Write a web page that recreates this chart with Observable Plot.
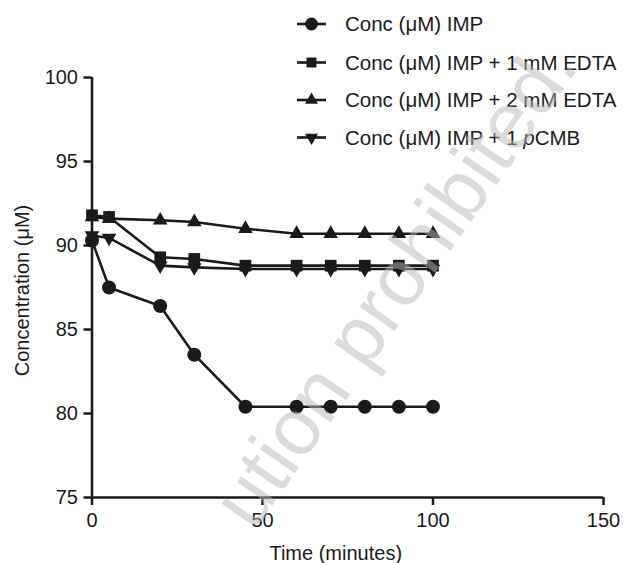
<!DOCTYPE html>
<html>
<head>
<meta charset="utf-8">
<script src="https://cdn.jsdelivr.net/npm/d3@7"></script>
<script src="https://cdn.jsdelivr.net/npm/@observablehq/plot@0.6"></script>
<style>
  html, body { margin: 0; padding: 0; background: #fff; }
  #wrap { position: relative; width: 626px; height: 563px; overflow: hidden; }
  #overlay { position: absolute; left: 0; top: 0; pointer-events: none; }
</style>
</head>
<body>
<div id="wrap"></div>
<script>
// ---- data ----
const times = [0, 5, 20, 30, 45, 60, 70, 80, 90, 100];
const seriesNames = ["Conc (μM) IMP", "Conc (μM) IMP + 1 mM EDTA", "Conc (μM) IMP + 2 mM EDTA", "Conc (μM) IMP + 1 pCMB"];
const imp   = [90.3, 87.5, 86.4, 83.5, 80.4, 80.4, 80.4, 80.4, 80.4, 80.4];
const edta1 = [91.8, 91.7, 89.3, 89.2, 88.8, 88.8, 88.8, 88.8, 88.8, 88.8];
const edta2 = [91.7, 91.6, 91.5, 91.4, 91.0, 90.7, 90.7, 90.7, 90.7, 90.7];
const pcmb  = [90.6, 90.45, 88.8, 88.7, 88.6, 88.6, 88.6, 88.6, 88.6, 88.6];
const xTicks = [0, 50, 100, 150];
const yTicks = [75, 80, 85, 90, 95, 100];
const watermark = "ution prohibited.";

const ink = "#1a1a1a";
const font = "'Liberation Sans', Arial, Helvetica, sans-serif";

// down-pointing triangle symbol
const triangleDown = {
  draw(ctx, size) {
    const y = Math.sqrt(size / (Math.sqrt(3) * 3));
    ctx.moveTo(0, 2 * y);
    ctx.lineTo(-Math.sqrt(3) * y, -y);
    ctx.lineTo(Math.sqrt(3) * y, -y);
    ctx.closePath();
  }
};

const seriesVals = [imp, edta1, edta2, pcmb];
const symbols = ["circle", "square", "triangle", triangleDown];
const radii = [7, 6.6, 5.4, 5.4];

const table = [];
seriesNames.forEach((name, i) => {
  times.forEach((t, j) => table.push({series: name, idx: i, time: t, conc: seriesVals[i][j]}));
});

const dotMarks = seriesNames.map((name, i) =>
  Plot.dot(table.filter(d => d.idx === i), {
    x: "time", y: "conc", symbol: () => symbols[i], r: radii[i],
    fill: ink, stroke: "none"
  })
);

const chart = Plot.plot({
  width: 626, height: 563,
  marginLeft: 91.5, marginRight: 23, marginTop: 77, marginBottom: 66,
  style: {fontFamily: font, fontSize: "20px", color: ink, background: "#fff", overflow: "visible"},
  x: {domain: [0, 150]},
  y: {domain: [75, 100]},
  symbol: {type: "identity"},
  marks: [
    Plot.axisX({ticks: xTicks, tickSize: 8, tickPadding: 7, strokeWidth: 2.5, label: null, fontSize: 20}),
    Plot.axisY({ticks: yTicks, tickSize: 8, tickPadding: 6, strokeWidth: 2.5, label: null, fontSize: 20}),
    Plot.ruleX([0], {stroke: ink, strokeWidth: 2.6}),
    Plot.ruleY([75], {stroke: ink, strokeWidth: 2.6}),
    Plot.line(table, {x: "time", y: "conc", z: "series", stroke: ink, strokeWidth: 2.6}),
    ...dotMarks,
    Plot.text(["Time (minutes)"], {frameAnchor: "bottom", dx: -12, dy: 56, lineAnchor: "middle", fontSize: 20, fill: ink}),
    Plot.text(["Concentration (μM)"], {frameAnchor: "left", dx: -69.5, dy: 3, rotate: -90, textAnchor: "middle", lineAnchor: "middle", fontSize: 20, fill: ink})
  ]
});

const wrap = document.getElementById("wrap");
wrap.appendChild(chart);

// ---- legend + watermark overlay ----
const ov = d3.select(wrap).append("svg")
  .attr("id", "overlay").attr("width", 626).attr("height", 563)
  .style("font-family", font);

const rowY = [24, 62.5, 100, 137.5];
const legSize = [Math.PI * 6.4 * 6.4, Math.PI * 5.6 * 5.6, Math.PI * 4.8 * 4.8, Math.PI * 4.8 * 4.8];
const d3Types = [d3.symbolCircle, d3.symbolSquare, d3.symbolTriangle, triangleDown];
seriesNames.forEach((name, i) => {
  const g = ov.append("g").attr("transform", `translate(0,${rowY[i]})`);
  g.append("line").attr("x1", 297).attr("x2", 326).attr("y1", 0).attr("y2", 0)
    .attr("stroke", ink).attr("stroke-width", 2.6);
  g.append("path").attr("transform", "translate(311.5,0)")
    .attr("d", d3.symbol().type(d3Types[i]).size(legSize[i])()).attr("fill", ink);
  const t = g.append("text").attr("x", 345).attr("y", 0).attr("dy", "0.36em")
    .attr("font-size", 20.5).attr("fill", ink);
  if (name.includes("pCMB")) {
    t.append("tspan").text("Conc (μM) IMP + 1 ");
    t.append("tspan").attr("font-style", "italic").text("p");
    t.append("tspan").text("CMB");
  } else {
    t.text(name);
  }
});

// watermark
ov.append("text")
  .attr("transform", "translate(580,66) rotate(-55)")
  .attr("text-anchor", "end")
  .attr("font-size", 80)
  .attr("fill", "#b8b8b8").attr("fill-opacity", 0.5)
  .text(watermark);
</script>
</body>
</html>
